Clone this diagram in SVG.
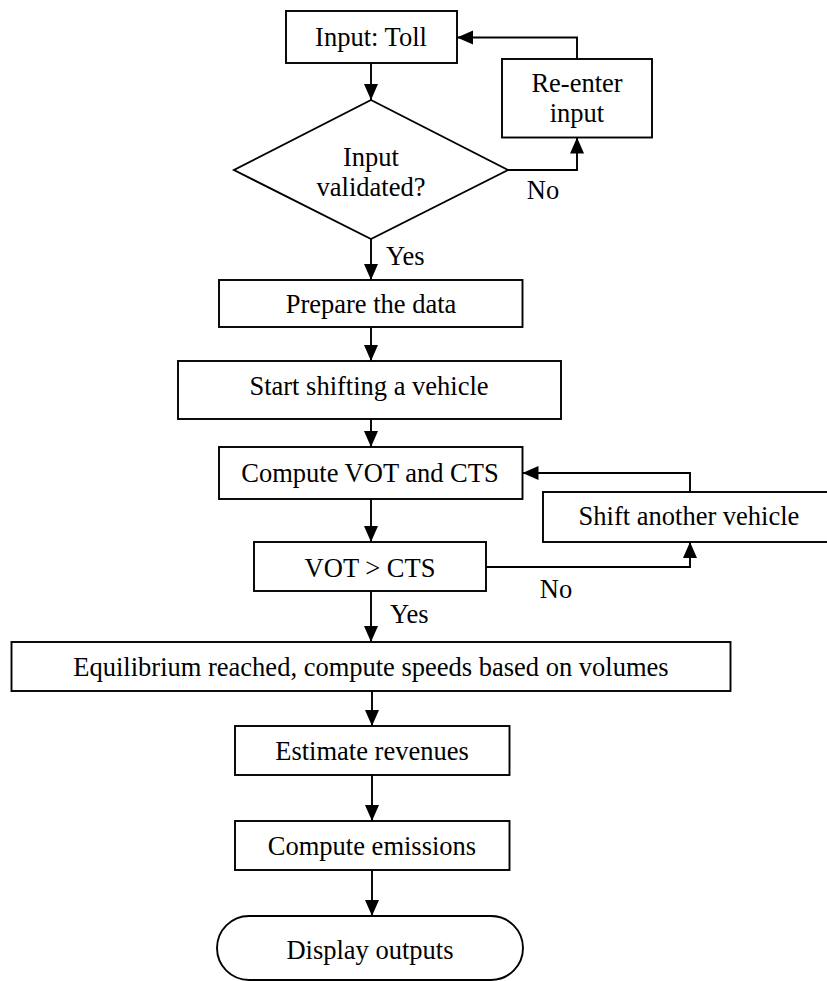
<svg xmlns="http://www.w3.org/2000/svg" width="827" height="981" viewBox="0 0 827 981">
<style>
.box{fill:#fff;stroke:#000;stroke-width:1.9}
.ln{fill:none;stroke:#000;stroke-width:1.9}
text{font-family:"Liberation Serif","Times New Roman",serif;font-size:26.5px;fill:#000}
.c{text-anchor:middle}
</style>
<defs>
<marker id="ah" markerUnits="userSpaceOnUse" markerWidth="17" markerHeight="15" refX="16" refY="7.5" orient="auto" viewBox="0 0 17 15">
<path d="M0,0.5 L16,7.5 L0,14.5 Z" fill="#000"/>
</marker>
</defs>
<rect width="827" height="981" fill="#fff"/>
<g id="connectors">
<line class="ln" x1="371" y1="63" x2="371" y2="100" marker-end="url(#ah)"/>
<polyline class="ln" points="508,170 577,170 577,137.5" marker-end="url(#ah)"/>
<polyline class="ln" points="577,59 577,37.5 457,37.5" marker-end="url(#ah)"/>
<line class="ln" x1="371" y1="239" x2="371" y2="280" marker-end="url(#ah)"/>
<line class="ln" x1="371" y1="327" x2="371" y2="361" marker-end="url(#ah)"/>
<line class="ln" x1="371" y1="419" x2="371" y2="447" marker-end="url(#ah)"/>
<line class="ln" x1="371" y1="499" x2="371" y2="542" marker-end="url(#ah)"/>
<polyline class="ln" points="690,492 690,473 522.5,473" marker-end="url(#ah)"/>
<polyline class="ln" points="486,567 690,567 690,542" marker-end="url(#ah)"/>
<line class="ln" x1="371" y1="591" x2="371" y2="642" marker-end="url(#ah)"/>
<line class="ln" x1="372" y1="691" x2="372" y2="726" marker-end="url(#ah)"/>
<line class="ln" x1="372" y1="775" x2="372" y2="821" marker-end="url(#ah)"/>
<line class="ln" x1="372" y1="870" x2="372" y2="916" marker-end="url(#ah)"/>
<text x="543" y="199" class="c">No</text>
<text x="386" y="265">Yes</text>
<text x="556" y="598" class="c">No</text>
<text x="390" y="623">Yes</text>
</g>
<g id="input-toll">
<rect class="box" x="286" y="11" width="171" height="52"/>
<text x="371" y="46" class="c">Input: Toll</text>
</g>
<g id="re-enter">
<rect class="box" x="502" y="59" width="150" height="78.5"/>
<text x="577" y="92" class="c">Re-enter</text>
<text x="577" y="122" class="c">input</text>
</g>
<g id="validated">
<polygon class="box" points="371,100 508,170 371,239 234,170"/>
<text x="371" y="166" class="c">Input</text>
<text x="371" y="196" class="c">validated?</text>
</g>
<g id="prepare">
<rect class="box" x="219" y="280" width="303.5" height="47"/>
<text x="371" y="313" class="c">Prepare the data</text>
</g>
<g id="start-shifting">
<rect class="box" x="178" y="361" width="383" height="58"/>
<text x="369" y="395" class="c">Start shifting a vehicle</text>
</g>
<g id="compute-vot">
<rect class="box" x="219" y="447" width="303.5" height="52"/>
<text x="370" y="482" class="c">Compute VOT and CTS</text>
</g>
<g id="shift-another">
<rect class="box" x="543" y="492" width="300" height="50"/>
<text x="689" y="525" class="c">Shift another vehicle</text>
</g>
<g id="vot-cts">
<rect class="box" x="254" y="542" width="232" height="49"/>
<text x="370" y="577" class="c">VOT &gt; CTS</text>
</g>
<g id="equilibrium">
<rect class="box" x="11.5" y="642" width="719" height="49"/>
<text x="371" y="676" class="c">Equilibrium reached, compute speeds based on volumes</text>
</g>
<g id="revenues">
<rect class="box" x="235" y="726" width="274.5" height="49"/>
<text x="372" y="760" class="c">Estimate revenues</text>
</g>
<g id="emissions">
<rect class="box" x="235" y="821" width="274.5" height="49"/>
<text x="372" y="855" class="c">Compute emissions</text>
</g>
<g id="display">
<path class="box" d="M249,916 L491,916 A32,32 0 0 1 491,980 L249,980 A32,32 0 0 1 249,916 Z"/>
<text x="370" y="959" class="c">Display outputs</text>
</g>
</svg>
